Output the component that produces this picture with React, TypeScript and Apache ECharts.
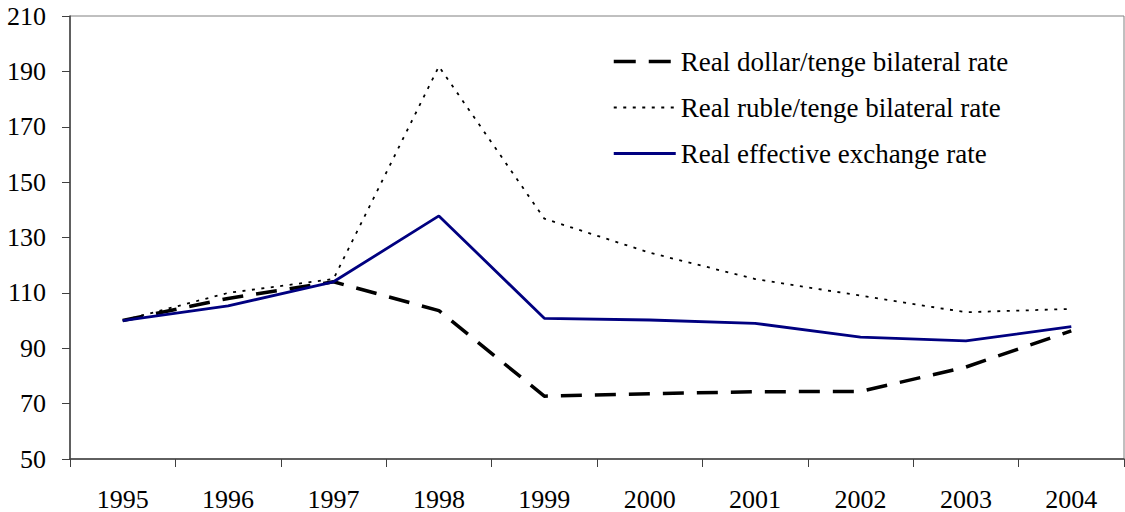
import React, { useEffect, useRef } from "react";
import * as echarts from "echarts";

const years = ["1995", "1996", "1997", "1998", "1999", "2000", "2001", "2002", "2003", "2004"];
const dollarTenge = [100, 108, 114, 103.6, 72.7, 73.6, 74.3, 74.4, 83.2, 96.3];
const rubleTenge = [100, 110, 115, 191.8, 136.8, 124.5, 115, 109, 103, 104.2];
const realEffective = [100, 105.3, 114, 137.8, 100.8, 100.2, 99, 94, 92.7, 97.8];

const seriesNames = [
  "Real dollar/tenge bilateral rate",
  "Real ruble/tenge bilateral rate",
  "Real effective exchange rate",
];

const FONT = "'Liberation Serif', 'Times New Roman', serif";

const styles = [
  { color: "#000000", width: 3.5, type: [21, 13] },
  { color: "#000000", width: 1.8, type: [3, 6.5] },
  { color: "#000080", width: 2.8, type: "solid" },
];

export default function App() {
  const ref = useRef<HTMLDivElement>(null);
  useEffect(() => {
    if (!ref.current) return;
    const chart = echarts.init(ref.current, null, { renderer: "svg" });
    chart.setOption({
      animation: false,
      backgroundColor: "#ffffff",
      grid: {
        left: 70,
        right: 1,
        top: 16,
        bottom: 52,
        show: true,
        borderColor: "#808080",
        borderWidth: 1,
        containLabel: false,
      },
      legend: {
        orient: "vertical",
        left: 607,
        top: 43,
        itemWidth: 62,
        itemHeight: 14,
        itemGap: 19,
        itemStyle: { color: "transparent", borderColor: "transparent", borderWidth: 0, opacity: 0 },
        textStyle: { fontFamily: FONT, fontSize: 27, color: "#000" },
        data: seriesNames.map((name, i) => ({
          name,
          lineStyle: {
            color: styles[i].color,
            width: styles[i].width,
            type: i === 0 ? [22, 13] : styles[i].type,
          },
        })),
      },
      xAxis: {
        type: "category",
        data: years,
        boundaryGap: true,
        axisLine: { lineStyle: { color: "#404040", width: 1.5 } },
        axisTick: {
          show: true,
          length: 8,
          inside: false,
          alignWithLabel: false,
          lineStyle: { color: "#404040", width: 1 },
        },
        axisLabel: {
          fontFamily: FONT,
          fontSize: 26,
          color: "#000",
          margin: 27,
        },
        splitLine: { show: false },
      },
      yAxis: {
        type: "value",
        min: 50,
        max: 210,
        interval: 20,
        axisLine: { show: true, lineStyle: { color: "#404040", width: 1.5 } },
        axisTick: { show: true, length: 8, lineStyle: { color: "#404040", width: 1 } },
        axisLabel: {
          fontFamily: FONT,
          fontSize: 26,
          color: "#000",
          margin: 24,
        },
        splitLine: { show: false },
      },
      series: [
        {
          name: seriesNames[0],
          type: "line",
          data: dollarTenge,
          symbol: "none",
          lineStyle: styles[0],
          itemStyle: { color: styles[0].color },
        },
        {
          name: seriesNames[1],
          type: "line",
          data: rubleTenge,
          symbol: "none",
          lineStyle: styles[1],
          itemStyle: { color: styles[1].color },
        },
        {
          name: seriesNames[2],
          type: "line",
          data: realEffective,
          symbol: "none",
          lineStyle: styles[2],
          itemStyle: { color: styles[2].color },
        },
      ],
    });
    return () => chart.dispose();
  }, []);
  return <div ref={ref} style={{ width: 1125, height: 512, position: "absolute", left: 0, top: 0 }} />;
}
